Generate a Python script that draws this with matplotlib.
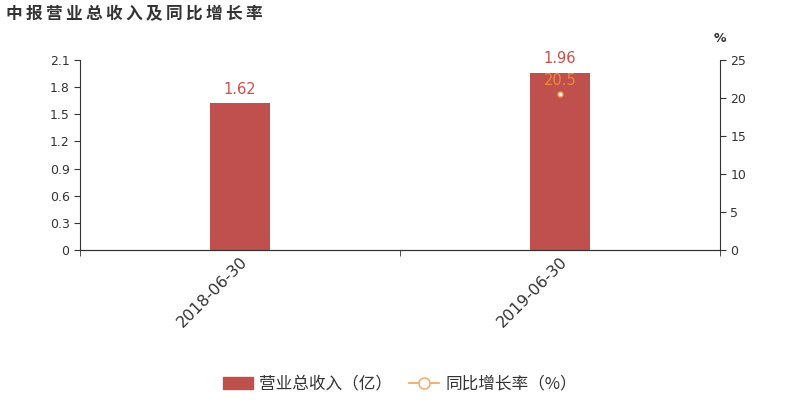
import matplotlib
matplotlib.use('Agg')
import matplotlib.pyplot as plt
import numpy as np

plt.rcParams['font.family'] = ['DejaVu Sans', 'Noto Sans CJK SC']

dates = ['2018-06-30', '2019-06-30']
revenue = [1.62, 1.96]          # 亿
growth = [None, 20.5]           # %

bar_color = '#c0504d'
line_color = '#f5a25d'
txt = '#333333'

fig = plt.figure(figsize=(8, 4), dpi=100)
ax = fig.add_axes([0.1, 0.375, 0.8, 0.475])
ax2 = ax.twinx()

x = np.arange(len(dates))
ax.bar(x, revenue, width=0.1875, color=bar_color, zorder=2)
for xi, v in zip(x, revenue):
    ax.text(xi, v + 0.07, f'{v:.2f}', ha='center', va='bottom', color='#cc4f48', fontsize=10.5)

gx = [xi for xi, g in zip(x, growth) if g is not None]
gy = [g for g in growth if g is not None]
ax2.plot(gx, gy, color=line_color, marker='o', markersize=3.5, markerfacecolor='white',
         markeredgecolor=line_color, linewidth=1.2, zorder=3)
for xi, g in zip(gx, gy):
    ax2.text(xi, g + 0.8, f'{g}', ha='center', va='bottom', color='#f0883a', fontsize=10.5)

ax.set_xlim(-0.5, 1.5)
ax.set_ylim(0, 2.1)
ax.set_yticks(np.arange(0, 2.11, 0.3))
ax.set_yticklabels(['0'] + [f'{v:.1f}' for v in np.arange(0.3, 2.11, 0.3)])
ax2.set_ylim(0, 25)
ax2.set_yticks(range(0, 26, 5))

ax.set_xticks(x)
ax.set_xticklabels(dates, rotation=45, ha='right', rotation_mode='anchor', fontsize=11.5, color=txt)
ax.tick_params(axis='x', length=0, pad=3)
ax.set_xticks([-0.5, 0.5, 1.5], minor=True)
ax.tick_params(axis='x', which='minor', length=4, color=txt)
ax.tick_params(axis='y', labelsize=9, colors=txt, length=4)
ax2.tick_params(axis='y', labelsize=9, colors=txt, length=4)

for a in (ax, ax2):
    a.spines['top'].set_visible(False)
    for s in ('left', 'right', 'bottom'):
        a.spines[s].set_color(txt)
ax.spines['right'].set_visible(False)
ax2.spines['left'].set_visible(False)

title = '中报营业总收入及同比增长率'
fig.text(0.008, 0.965, '\u2009'.join(title), fontsize=12, fontweight='bold', color=txt, va='center')
fig.text(0.9, 0.903, '%', fontsize=9, fontweight='bold', color=txt, ha='center', va='center')

h1 = plt.Rectangle((0, 0), 1, 1, color=bar_color)
h2, = ax.plot([], [], color=line_color, marker='o', markersize=8, markerfacecolor='white',
              markeredgecolor=line_color, linewidth=1.2)
fig.legend([h1, h2], ['营业总收入（亿）', '同比增长率（%）'], loc='center', bbox_to_anchor=(0.5, 0.04),
           ncol=2, frameon=False, labelcolor=txt, handlelength=1.8, columnspacing=1.0,
           handletextpad=0.4, prop={'family': ['Noto Sans CJK SC', 'DejaVu Sans'], 'size': 12})

fig.savefig('out.png', dpi=100)
